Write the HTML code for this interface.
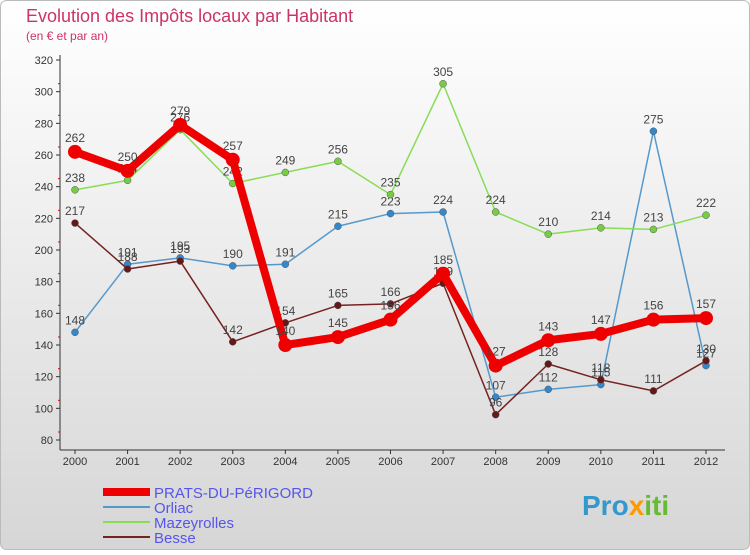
<!DOCTYPE html>
<html><head><meta charset="utf-8"><style>
body{margin:0;width:750px;height:550px;overflow:hidden;font-family:"Liberation Sans",sans-serif}
svg text{font-family:"Liberation Sans",sans-serif}
</style></head><body>
<svg id="c" width="750" height="550">
<defs><linearGradient id="bg" x1="0" y1="0" x2="0" y2="1"><stop offset="0" stop-color="#ffffff"/><stop offset="1" stop-color="#d6d6d6"/></linearGradient></defs>
<rect x="0.5" y="0.5" width="749" height="549" rx="6" fill="url(#bg)" stroke="#bbb"/>
<text x="26" y="22" font-size="18" fill="#cc3366">Evolution des Impôts locaux par Habitant</text>
<text x="26" y="40" font-size="12" fill="#cc3366">(en € et par an)</text>
<g id="axes"></g><g id="series"></g><g id="legend"></g>
<text x="582" y="515" font-size="28" font-weight="bold" fill="#3399cc">Pro<tspan fill="#ff9900">x</tspan><tspan fill="#66bb33">iti</tspan></text>
</svg>
<script>
const years=[2000,2001,2002,2003,2004,2005,2006,2007,2008,2009,2010,2011,2012];
const prats=[262,250,279,257,140,145,156,185,127,143,147,156,157];
const orliac=[148,191,195,190,191,215,223,224,107,112,115,275,127];
const mazeyrolles=[238,244,276,242,249,256,235,305,224,210,214,213,222];
const besse=[217,188,193,142,154,165,166,179,96,128,118,111,130];
const yTicks=[80,100,120,140,160,180,200,220,240,260,280,300,320];
const NS="http://www.w3.org/2000/svg";
const X=i=>75+i*(706-75)/(years.length-1);
const Y=v=>440-(v-80)*(380/240);
function mk(t,a,p){const e=document.createElementNS(NS,t);for(const k in a)e.setAttribute(k,a[k]);p.appendChild(e);return e;}
const ax=document.getElementById('axes');
let e=mk('line',{x1:60,y1:55,x2:60,y2:450,stroke:'#333'},ax);


e=mk('line',{x1:60,y1:450,x2:725,y2:450,stroke:'#333'},ax);


yTicks.forEach(v=>{const y=Y(v);mk('line',{x1:56,y1:y,x2:60,y2:y,stroke:'#333'},ax);
if(v<320)mk('line',{x1:58,y1:y-8,x2:60,y2:y-8,stroke:'#e00'},ax);
const t=mk('text',{x:53,y:y+4,'font-size':11,'text-anchor':'end',fill:'#333'},ax);t.textContent=v;

});
years.forEach((yr,i)=>{mk('line',{x1:X(i),y1:450,x2:X(i),y2:454,stroke:'#333'},ax);
const t=mk('text',{x:X(i),y:465,'font-size':11,'text-anchor':'middle',fill:'#333'},ax);t.textContent=yr;

});
const sg=document.getElementById('series');
const defs=[["orliac",orliac,'#5599cc',1.5,3.5,'#3388cc'],["mazeyrolles",mazeyrolles,'#88dd55',1.5,3.5,'#77cc44'],["besse",besse,'#772222',1.5,3.5,'#661818'],["prats",prats,'#ee0000',8,7,'#ee0000']];
defs.forEach(([n,d,c,w,r,fc])=>{const g=mk('g',{},sg);


mk('polyline',{points:d.map((v,i)=>X(i)+','+Y(v)).join(' '),fill:'none',stroke:c,'stroke-width':w,'stroke-linejoin':'round'},g);
d.forEach((v,i)=>{const p=mk('circle',{cx:X(i),cy:Y(v),r:r,fill:fc,stroke:n==='prats'?'none':'#555','stroke-width':0.5},g);


const t=mk('text',{x:X(i),y:Y(v)-(n==='prats'?10:8),'font-size':12,'text-anchor':'middle',fill:'#444'},g);t.textContent=v;

});});
const lg=document.getElementById('legend');
[["PRATS-DU-PéRIGORD",'#ee0000',8],["Orliac",'#5599cc',2],["Mazeyrolles",'#88dd55',2],["Besse",'#772222',2]].forEach(([n,c,w],i)=>{
const y=492+i*15;const g=mk('g',{},lg);


mk('line',{x1:103,y1:y,x2:150,y2:y,stroke:c,'stroke-width':w},g);
const t=mk('text',{x:154,y:y+6,'font-size':15,fill:'#5555ee'},g);t.textContent=n;});
</script>
</body></html>
